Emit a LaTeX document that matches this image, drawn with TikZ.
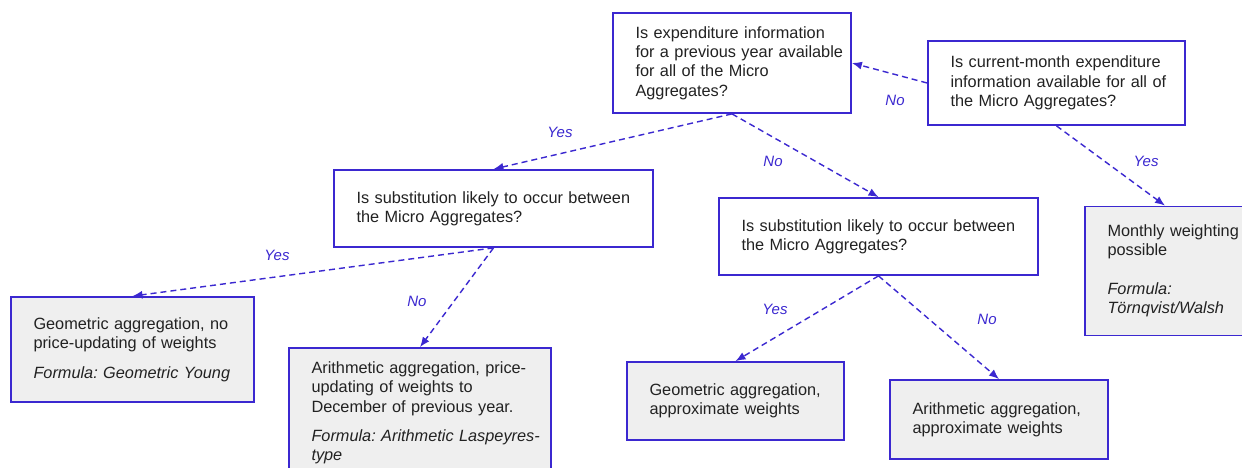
\documentclass[tikz,border=0pt]{standalone}
\usepackage{fontspec}
\setmainfont{Liberation Sans}
\usetikzlibrary{arrows.meta}
\frenchspacing
\definecolor{bblue}{RGB}{59,40,208}
\definecolor{boxgrey}{RGB}{239,239,239}
\definecolor{txt}{RGB}{34,34,34}
\newcommand{\oneline}[1]{\mbox{#1}}
\tikzset{
  qbox/.style={draw=bblue, line width=1.8pt, fill=white, rectangle,
    inner xsep=22.5pt, inner ysep=0pt, align=left,
    font=\fontsize{16.3}{19.3}\selectfont, text=txt},
  rbox/.style={qbox, fill=boxgrey},
  conn/.style={draw=bblue, line width=1.4pt, dash pattern=on 6pt off 4pt,
    -{Latex[length=10pt,width=8pt]}},
  lbl/.style={text=bblue, font=\fontsize{15}{18}\selectfont\itshape},
}
\begin{document}
\begin{tikzpicture}[x=1pt,y=-1pt]
\useasboundingbox (0,0) rectangle (1242,468);
\clip (0,0) rectangle (1242,468);
\fill[white] (0,0) rectangle (1242,468);

\node[qbox, text width=193pt, minimum height=100pt] (A) at (732,63)
  {\oneline{Is expenditure information}\\\oneline{for a previous year available}\\for all of the Micro\\Aggregates?};
\node[qbox, text width=212pt, minimum height=84pt] (B) at (1056.5,83)
  {\oneline{Is current-month expenditure}\\\oneline{information available for all of}\\\oneline{the Micro Aggregates?}};
\node[qbox, text width=274pt, minimum height=77pt] (C) at (493.5,208.5)
  {\oneline{Is substitution likely to occur between}\\the Micro Aggregates?};
\node[qbox, text width=274pt, minimum height=77pt] (D) at (878.5,236.5)
  {\oneline{Is substitution likely to occur between}\\the Micro Aggregates?};
\node[rbox, text width=115pt, minimum height=129pt] (E) at (1165,271)
  {\oneline{Monthly weighting}\\possible\\[19.3pt]{\itshape Formula:}\\\oneline{\itshape T\"ornqvist/Walsh}};
\node[rbox, text width=198pt, minimum height=105pt] (F) at (132.5,349.5)
  {\oneline{Geometric aggregation, no}\\\oneline{price-updating of weights}\\[10pt]\oneline{\itshape Formula: Geometric Young}};
\node[rbox, text width=217pt, minimum height=130pt] (G) at (420,413)
  {\oneline{Arithmetic aggregation, price-}\\\oneline{updating of weights to}\\\oneline{December of previous year.}\\[10pt]\oneline{\itshape Formula: Arithmetic Laspeyres-}\\{\itshape type}};
\node[rbox, text width=172pt, minimum height=78pt] (H) at (735.5,401)
  {\oneline{Geometric aggregation,}\\\oneline{approximate weights}};
\node[rbox, text width=173pt, minimum height=79pt] (I) at (999,419.5)
  {\oneline{Arithmetic aggregation,}\\\oneline{approximate weights}};

\draw[conn] (B.west) -- (A.east) node[lbl] at (895,100) {No};
\draw[conn] (A.south) -- (C.north) node[lbl] at (560,132) {Yes};
\draw[conn] (A.south) -- (D.north) node[lbl] at (773,161) {No};
\draw[conn] (B.south) -- (E.north) node[lbl] at (1146,161) {Yes};
\draw[conn] (C.south) -- (F.north) node[lbl] at (277,255) {Yes};
\draw[conn] (C.south) -- (G.north) node[lbl] at (417,301) {No};
\draw[conn] (D.south) -- (H.north) node[lbl] at (775,309) {Yes};
\draw[conn] (D.south) -- (I.north) node[lbl] at (987,319) {No};
\end{tikzpicture}
\end{document}
